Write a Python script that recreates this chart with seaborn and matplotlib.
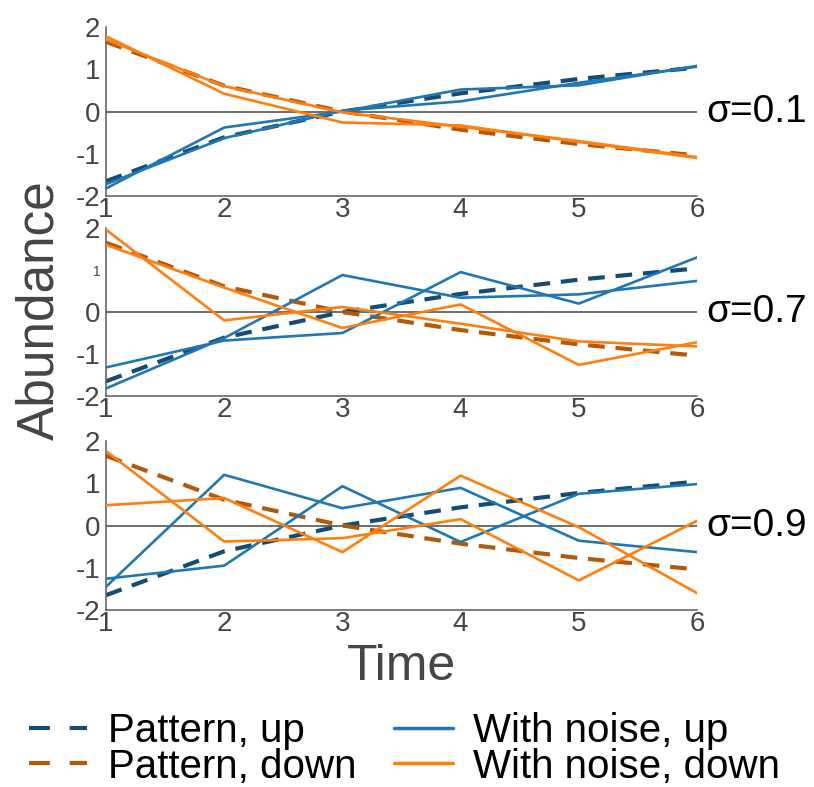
import matplotlib
matplotlib.use("Agg")
import matplotlib.pyplot as plt
from matplotlib.lines import Line2D
import seaborn as sns
import pandas as pd

# ---- data -------------------------------------------------------------
time = [1, 2, 3, 4, 5, 6]
pattern_up = [-1.65, -0.61, 0.0, 0.43, 0.77, 1.04]
pattern_down = [1.65, 0.61, 0.0, -0.43, -0.77, -1.04]

sigmas = ["σ=0.1", "σ=0.7", "σ=0.9"]

noise_up_a = [
    [-1.82, -0.38, 0.00, 0.52, 0.62, 1.08],
    [-1.82, -0.62, 0.88, 0.34, 0.42, 0.74],
    [-1.45, 1.20, 0.41, 0.89, -0.36, -0.63],
]
noise_up_b = [
    [-1.72, -0.63, 0.02, 0.24, 0.68, 1.06],
    [-1.32, -0.68, -0.50, 0.95, 0.20, 1.30],
    [-1.26, -0.95, 0.93, -0.39, 0.75, 0.98],
]
noise_down_a = [
    [1.78, 0.42, -0.26, -0.33, -0.72, -1.10],
    [1.96, -0.20, 0.12, -0.28, -0.70, -0.82],
    [1.76, -0.38, -0.30, 0.15, -1.30, 0.11],
]
noise_down_b = [
    [1.70, 0.60, -0.02, -0.36, -0.70, -1.08],
    [1.60, 0.58, -0.38, 0.18, -1.26, -0.72],
    [0.48, 0.65, -0.63, 1.18, -0.04, -1.60],
]

yticks = [-2, -1, 0, 1, 2]
ytick_labels = ["-2", "-1", "0", "1", "2"]
xticks = [1, 2, 3, 4, 5, 6]

legend_labels = ["Pattern, up", "Pattern, down", "With noise, up", "With noise, down"]

# ---- style ------------------------------------------------------------
sns.set_style("white")
plt.rcParams["font.family"] = ["Liberation Sans", "DejaVu Sans"]

c_pat_up = "#164b72"
c_pat_down = "#b2590c"
c_up = "#1f77b4"
c_down = "#ff7f0e"
grey = "#454545"

W, H = 814, 787
fig = plt.figure(figsize=(W / 100, H / 100), dpi=100)

panels = [(27, 196), (228, 396), (441, 610)]
left_px, right_px = 106, 697

for i, (top, bot) in enumerate(panels):
    ax = fig.add_axes([left_px / W, 1 - bot / H, (right_px - left_px) / W, (bot - top) / H])
    ax.axhline(0, color="#555555", lw=1.2, zorder=1)

    df_pat = pd.DataFrame({"time": time, "up": pattern_up, "down": pattern_down})
    for col, c in (("up", c_pat_up), ("down", c_pat_down)):
        sns.lineplot(data=df_pat, x="time", y=col, ax=ax, color=c, lw=3,
                     zorder=2, legend=False)
    for ln in ax.get_lines()[1:]:
        ln.set_dashes((4, 2.6))

    for series, c in ((noise_up_a[i], c_up), (noise_up_b[i], c_up),
                      (noise_down_a[i], c_down), (noise_down_b[i], c_down)):
        sns.lineplot(x=time, y=series, ax=ax, color=c, lw=1.9, zorder=3, legend=False)

    ax.set_xlim(1, 6)
    ax.set_ylim(-2, 2)
    ax.set_xticks(xticks)
    ax.set_yticks(yticks)
    ax.set_xticklabels([str(t) for t in xticks])
    ax.set_yticklabels(ytick_labels)
    ax.tick_params(axis="both", length=0, labelsize=20, labelcolor=grey)
    ax.tick_params(axis="x", pad=1)
    ax.tick_params(axis="y", pad=4)
    if i == 1:
        ax.get_yticklabels()[3].set_fontsize(10)
    ax.set_xlabel("")
    ax.set_ylabel("")
    sns.despine(ax=ax)
    for s in ("left", "bottom"):
        ax.spines[s].set_color("#5a5a5a")
        ax.spines[s].set_linewidth(1.1)
    ax.set_facecolor("none")
    ax.text(1.016, 0, sigmas[i], transform=ax.get_yaxis_transform(),
            fontsize=28, color="black", va="center", ha="left")

fig.text(40 / W, 1 - 310 / H, "Abundance", rotation=90, fontsize=37, color=grey,
         ha="center", va="center")
fig.text(401 / W, 1 - 667 / H, "Time", fontsize=36, color=grey, ha="center", va="center")

handles = [
    Line2D([], [], color=c_pat_up, lw=3, dashes=(5, 4.75)),
    Line2D([], [], color=c_pat_down, lw=3, dashes=(5, 4.75)),
    Line2D([], [], color=c_up, lw=2.5),
    Line2D([], [], color=c_down, lw=2.5),
]
fig.legend(handles, legend_labels, ncol=2, frameon=False, fontsize=29,
           loc="upper left", bbox_to_anchor=(29 / W, 1 - 712 / H),
           handlelength=1.45, handletextpad=0.5, columnspacing=0.95,
           labelspacing=-0.06, borderpad=0, borderaxespad=0,
           labelcolor="black")

fig.savefig("out.png", dpi=100)
